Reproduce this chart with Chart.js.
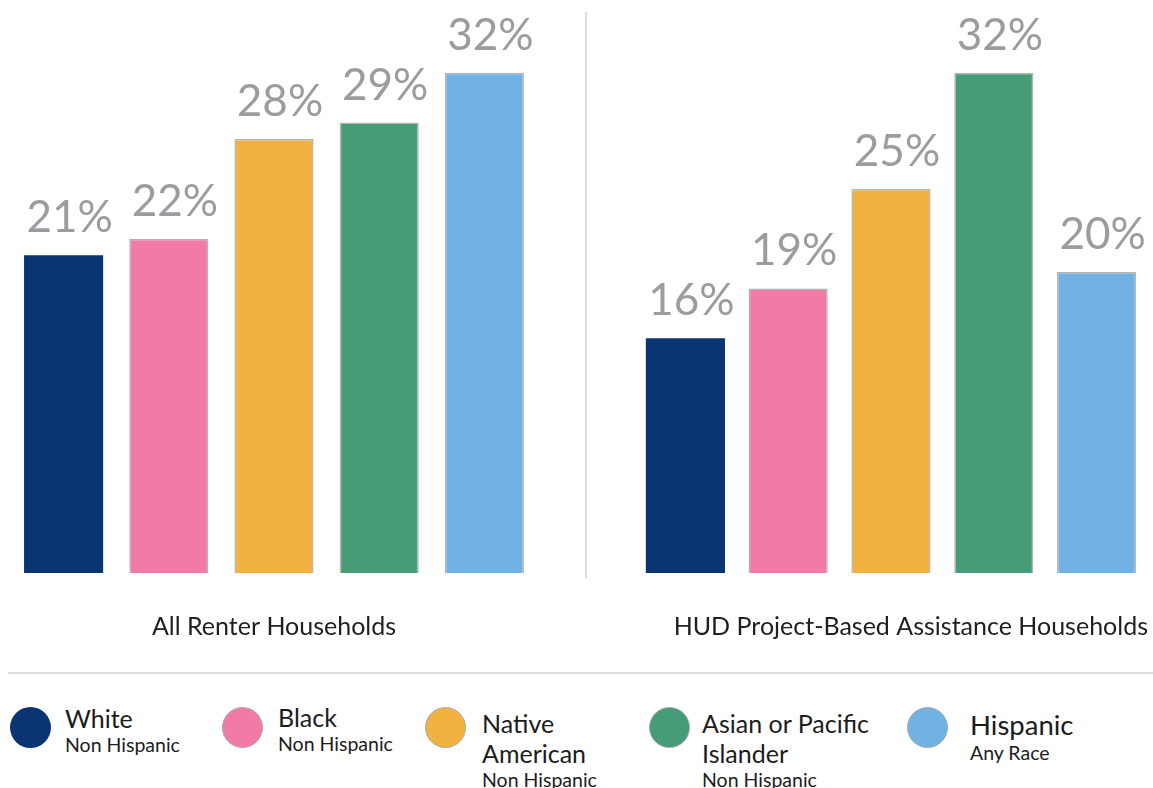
<!DOCTYPE html>
<html>
<head>
<meta charset="utf-8">
<script src="https://cdn.jsdelivr.net/npm/chart.js@4.4.0/dist/chart.umd.min.js"></script>
<style>
    body { margin: 0; background: #fff; font-family: Lato, sans-serif; }
    #page { position: relative; width: 1153px; height: 788px; overflow: hidden; }
    .box { position: absolute; top: 0; height: 642px; }
    .rule { position: absolute; background: #dcdcdc; }
    .dot { position: absolute; top: 707px; width: 41px; height: 41px; border-radius: 50%; box-sizing: border-box; }
    .txt { position: absolute; color: #1c1c1c; white-space: pre; }
    .name { font-size: 25px; line-height: 1.2; }
    .note { font-size: 19.5px; line-height: 1.2; }
</style>
</head>
<body>
<div id="page">
    <div class="box" style="left:11px;width:526px"><canvas id="allChart"></canvas></div>
    <div class="box" style="left:634px;width:514px"><canvas id="hudChart"></canvas></div>
    <div class="rule" style="left:585px;top:12px;width:2px;height:566px"></div>
    <div class="rule" style="left:8px;top:672px;width:1145px;height:2px"></div>
    <div id="legend"></div>
</div>
<script>
var races = ['White', 'Black', 'Native American', 'Asian or Pacific Islander', 'Hispanic'];
var raceNotes = ['Non Hispanic', 'Non Hispanic', 'Non Hispanic', 'Non Hispanic', 'Any Race'];
var legendNames = ['White', 'Black', 'Native\nAmerican', 'Asian or Pacific\nIslander', 'Hispanic'];
var groupTitles = ['All Renter Households', 'HUD Project-Based Assistance Households'];

var allRenters = [21, 22, 28, 29, 32];
var hudProject = [16, 19, 25, 32, 20];

var colors = ['#0a3572', '#f27aa6', '#f2b241', '#469c77', '#6fb2e3'];
var edges = ['rgba(0,0,0,0)', '#b4b4b4', '#b4b4b4', '#b4b4b4', '#b4b4b4'];

// legend layout (circle left, text left, text top, name size)
var legendPos = [
    { dot: 10, text: 65, top: 703, size: 25 },
    { dot: 222, text: 278, top: 702, size: 25 },
    { dot: 425, text: 482, top: 708, size: 25 },
    { dot: 649, text: 702, top: 708, size: 25 },
    { dot: 907, text: 970, top: 708, size: 27.5 }
];

Chart.defaults.font.family = 'Lato';

// draws the percentage above each bar
var valueLabels = {
    id: 'valueLabels',
    afterDatasetsDraw: function (chart) {
        var ctx = chart.ctx;
        var ds = chart.data.datasets[0];
        ctx.save();
        ctx.font = '44px Lato';
        ctx.fillStyle = '#9c9ca0';
        ctx.textAlign = 'center';
        ctx.textBaseline = 'alphabetic';
        chart.getDatasetMeta(0).data.forEach(function (bar, i) {
            ctx.fillText(ds.data[i] + '%', bar.x + 6, bar.y - 23);
        });
        ctx.restore();
    }
};

function makeChart(id, values, title, align, barPct) {
    return new Chart(document.getElementById(id), {
        type: 'bar',
        data: {
            labels: races,
            datasets: [{
                data: values,
                backgroundColor: colors,
                borderColor: edges,
                borderWidth: [0, 1.5, 1.5, 1.5, 1.5],
                categoryPercentage: 1,
                barPercentage: barPct
            }]
        },
        options: {
            responsive: true,
            maintainAspectRatio: false,
            animation: false,
            layout: { padding: 0 },
            plugins: { legend: { display: false }, tooltip: { enabled: false } },
            scales: {
                x: {
                    grid: { display: false, drawTicks: false },
                    border: { display: false },
                    ticks: { display: false },
                    title: {
                        display: true,
                        text: title,
                        align: align,
                        color: '#1f1f1f',
                        font: { size: 25 },
                        padding: { top: 39, bottom: 0 }
                    }
                },
                y: { display: false, min: 1.86, max: 36.38 }
            }
        },
        plugins: [valueLabels]
    });
}

makeChart('allChart', allRenters, groupTitles[0], 'center', 0.752);
makeChart('hudChart', hudProject, groupTitles[1], 'end', 0.77);

var legend = document.getElementById('legend');
races.forEach(function (race, i) {
    var p = legendPos[i];
    var dot = document.createElement('div');
    dot.className = 'dot';
    dot.style.left = p.dot + 'px';
    dot.style.background = colors[i];
    if (i > 0) dot.style.border = '1.5px solid #aaaaaa';
    legend.appendChild(dot);

    var txt = document.createElement('div');
    txt.className = 'txt';
    txt.style.left = p.text + 'px';
    txt.style.top = p.top + 'px';
    txt.innerHTML = '<div class="name" style="font-size:' + p.size + 'px">' + legendNames[i] +
        '</div><div class="note">' + raceNotes[i] + '</div>';
    legend.appendChild(txt);
});
</script>
</body>
</html>
